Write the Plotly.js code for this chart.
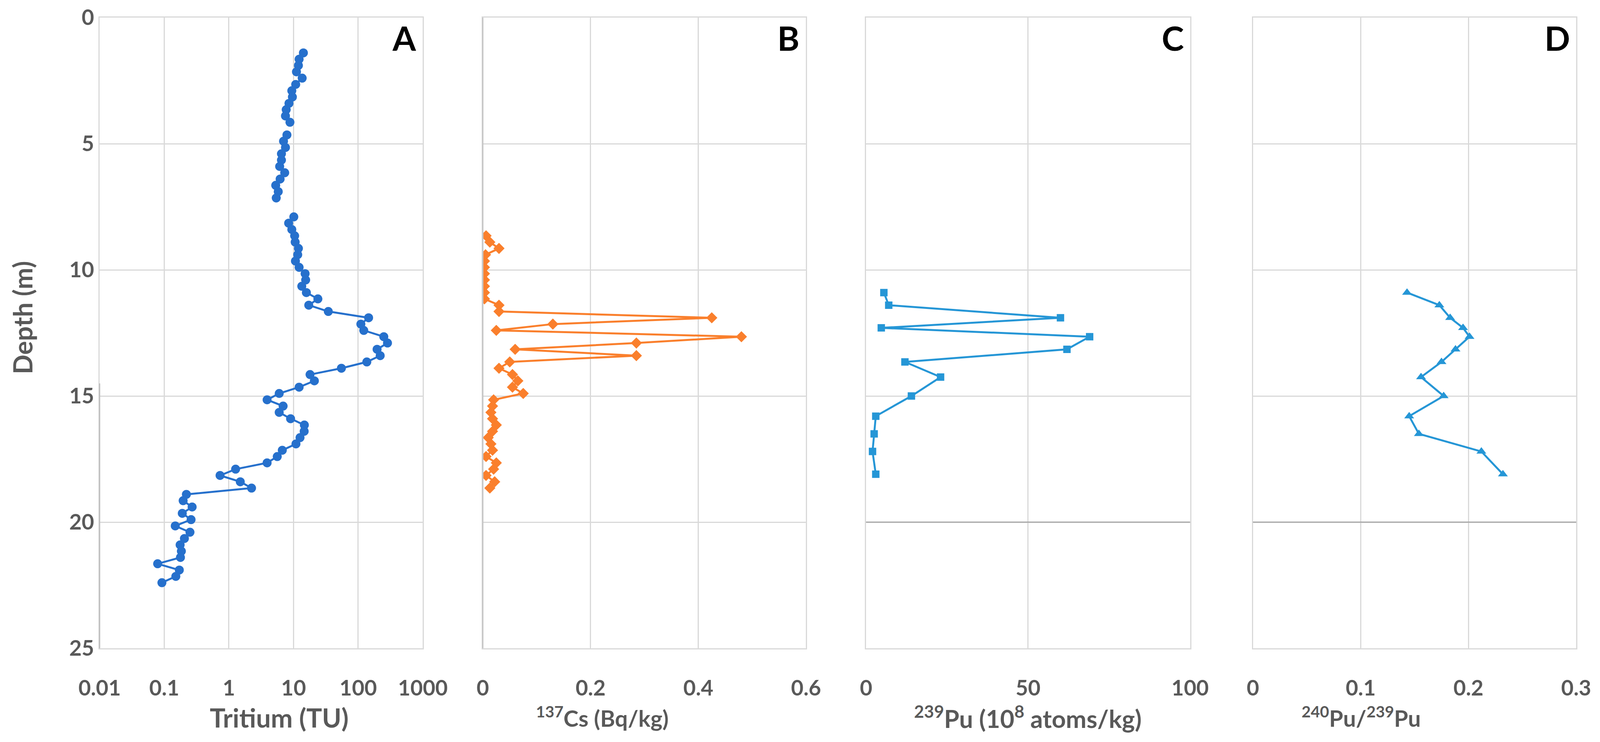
<!DOCTYPE html>
<html>
<head>
<meta charset="utf-8">
<script src="https://cdn.plot.ly/plotly-3.0.1.min.js"></script>
<style>html,body{margin:0;padding:0;background:#fff;overflow:hidden;}#chart{width:100vw;height:100vh;}</style>
</head>
<body>
<div id="chart"></div>
<script>
// ---- Panel A: Tritium (TU) vs depth (m); null breaks the line between sample groups
const tritiumDepth = [1.4,1.65,1.9,2.15,2.4,2.65,2.9,3.15,3.4,3.65,3.9,4.15, null,
  4.65,4.9,5.15,5.4,5.65,5.9,6.15,6.4,6.65,6.9,7.15, null,
  7.9,8.15,8.4,8.65,8.9,9.15,9.4,9.65,9.9,10.15,10.4,10.65,10.9,11.15,11.4,11.65,11.9,12.15,12.4,12.65,12.9,13.15,13.4,13.65,13.9,
  14.15,14.4,14.65,14.9,15.15,15.4,15.65,15.9,16.15,16.4,16.65,16.9,17.15,17.4,17.65,17.9,18.15,18.4,18.65,
  18.9,19.15,19.4,19.65,19.9,20.15,20.4,20.65,20.9,21.15,21.4,21.65,21.9,22.15,22.4];
const tritium = [14.2,12.2,11.9,11.1,13.6,10.8,9.4,9.6,8.5,7.7,7.5,8.8, null,
  7.9,7.0,7.5,6.5,6.5,6.1,7.3,6.2,5.3,5.8,5.4, null,
  10.1,8.4,9.4,10.4,10.6,11.9,11.6,10.7,12.2,15.1,15.4,13.4,15.8,23.8,17.2,34.5,145,110,122,249,284,196,219,136,55,
  18,21,12.2,6.0,3.9,6.9,6.0,9.0,14.7,14.6,12.6,10.9,6.7,5.6,3.9,1.27,0.73,1.5,2.24,
  0.22,0.196,0.27,0.19,0.26,0.148,0.25,0.205,0.176,0.184,0.178,0.079,0.171,0.151,0.092];

// ---- Panel B: 137Cs (Bq/kg)
const csDepth = [8.65,8.9,9.15,9.4,9.65,9.9,10.15,10.4,10.65,10.9,11.15,11.4,11.65,11.9,12.15,12.4,12.65,12.9,13.15,13.4,13.65,13.9,
  14.15,14.4,14.65,14.9,15.15,15.4,15.65,15.9,16.15,16.4,16.65,16.9,17.15,17.4,17.65,17.9,18.15,18.4,18.65];
const cs = [0.006,0.013,0.030,0.005,0.003,0.003,0.003,0.003,0.003,0.003,0.003,0.030,0.030,0.425,0.130,0.025,0.480,0.285,0.060,0.285,0.050,0.030,
  0.055,0.065,0.055,0.075,0.020,0.018,0.015,0.018,0.025,0.018,0.010,0.015,0.018,0.006,0.025,0.020,0.006,0.022,0.013];

// ---- Panels C and D: 239Pu (1e8 atoms/kg) and 240Pu/239Pu
const puDepth = [10.9,11.4,11.9,12.3,12.65,13.15,13.65,14.25,15.0,15.8,16.5,17.2,18.1];
const pu239 = [5.5,7,60,4.7,69,62,12,23,14,3,2.5,2,3];
const puRatio = [0.143,0.173,0.183,0.195,0.201,0.188,0.175,0.156,0.177,0.145,0.154,0.212,0.232];

// ---- Axis tick labels and titles
const depthTicks = [0,5,10,15,20,25];
const tritiumTicks = [0.01,0.1,1,10,100,1000];
const tritiumTickText = ['0.01','0.1','1','10','100','1000'];
const csTicks = [0,0.2,0.4,0.6];
const puTicks = [0,50,100];
const ratioTicks = [0,0.1,0.2,0.3];
const panelLetters = ['A','B','C','D'];
const axisTitles = ['Tritium (TU)', '<sup>137</sup>Cs (Bq/kg)', '<sup>239</sup>Pu (10<sup>8</sup> atoms/kg)', '<sup>240</sup>Pu/<sup>239</sup>Pu'];

const GRID = '#D9D9D9';
const TXT = '#595959';
const FONT = 'Lato, "Open Sans", sans-serif';

const W = window.innerWidth || 4367;
const H = window.innerHeight || 1900;
// frame of the plotting area as fractions of the picture
const LEFT = 0.0623, RIGHT = 0.9851, TOP = 0.0237, BOTTOM = 0.8737;
const mL = LEFT * W, mR = (1 - RIGHT) * W, mT = TOP * H, mB = (1 - BOTTOM) * H;
const pw = RIGHT - LEFT;
const dom = (a, b) => [Math.max(0, (a - LEFT) / pw), Math.min(1, (b - LEFT) / pw)];
const paperY = f => (BOTTOM - f) / (BOTTOM - TOP);   // f = fraction of picture height from the top

const traces = [
  {x: tritium, y: tritiumDepth, xaxis:'x', yaxis:'y', mode:'lines+markers', connectgaps:false,
   line:{color:'#2670CC', width:5}, marker:{symbol:'circle', size:23, color:'#2670CC'}},
  {x: cs, y: csDepth, xaxis:'x2', yaxis:'y2', mode:'lines+markers',
   line:{color:'#FA7F2C', width:5}, marker:{symbol:'diamond', size:22, color:'#FA7F2C'}},
  {x: pu239, y: puDepth, xaxis:'x3', yaxis:'y3', mode:'lines+markers',
   line:{color:'#2596D6', width:5}, marker:{symbol:'square', size:19, color:'#2596D6'}},
  {x: puRatio, y: puDepth, xaxis:'x4', yaxis:'y4', mode:'lines+markers',
   line:{color:'#2596D6', width:5}, marker:{symbol:'triangle-up', size:22, color:'#2596D6'}}
];

const tickFont = {family: FONT, size: 55, color: TXT, weight: 'bold'};
function xAx(domain, extra) {
  return Object.assign({
    domain: domain, showgrid: true, gridcolor: GRID, gridwidth: 3,
    showline: true, linecolor: GRID, linewidth: 3, mirror: true, zeroline: false,
    ticks: '', ticklabelstandoff: 52, tickfont: tickFont, fixedrange: true
  }, extra);
}
function yAx(anchor, showLabels) {
  return {
    anchor: anchor, domain: [0,1], range: [25,0], tickvals: depthTicks,
    showgrid: true, gridcolor: GRID, gridwidth: 3, showline: true, linecolor: GRID, linewidth: 3, mirror: true,
    zeroline: false, ticks: '', showticklabels: showLabels, ticklabelstandoff: 0, tickfont: tickFont, fixedrange: true
  };
}
const axRef = i => (i === 0 ? 'x' : 'x' + (i + 1));
const ayRef = i => (i === 0 ? 'y' : 'y' + (i + 1));

const letterAnn = panelLetters.map((t, i) => ({
  text: t, showarrow: false,
  xref: axRef(i) + ' domain', yref: ayRef(i) + ' domain',
  x: 1, y: 1, xanchor: 'right', yanchor: 'top', xshift: -14, yshift: 2,
  font: {family: FONT, size: 86, color: '#000000', weight: 'bold'}
}));
// x-axis titles: position within each panel (fraction of panel width), vertical centre, size
const titleX = [0.555, 0.37, 0.50, 0.335];
const titleY = [0.967, 0.966, 0.966, 0.966];
const titleSize = [67, 58, 63, 58];
const titleAnn = axisTitles.map((t, i) => ({
  text: t, showarrow: false,
  xref: axRef(i) + ' domain', yref: 'paper', x: titleX[i], xanchor: 'center',
  y: paperY(titleY[i]), yanchor: 'middle',
  font: {family: FONT, size: titleSize[i], color: TXT, weight: 'bold'}
}));
const depthTitle = {
  text: 'Depth (m)', showarrow: false, textangle: -90,
  xref: 'paper', yref: 'paper', x: 0, xanchor: 'center', xshift: -(mL - 0.014 * W),
  y: paperY(0.428), yanchor: 'middle',
  font: {family: FONT, size: 66, color: TXT, weight: 'bold'}
};

const layout = {
  width: W, height: H,
  margin: {l: mL, r: mR, t: mT, b: mB},
  paper_bgcolor: '#FFFFFF', plot_bgcolor: '#FFFFFF',
  showlegend: false,
  font: {family: FONT, color: TXT},
  xaxis: xAx(dom(0.0623, 0.2643), {type: 'log', range: [-2, 3], tickvals: tritiumTicks, ticktext: tritiumTickText}),
  xaxis2: xAx(dom(0.3018, 0.5038), {range: [0, 0.6], tickvals: csTicks, ticktext: csTicks.map(String)}),
  xaxis3: xAx(dom(0.5413, 0.7438), {range: [0, 100], tickvals: puTicks, ticktext: puTicks.map(String)}),
  xaxis4: xAx(dom(0.7831, 0.9851), {range: [0, 0.3], tickvals: ratioTicks, ticktext: ratioTicks.map(String)}),
  yaxis: yAx('x', true),
  yaxis2: yAx('x2', false),
  yaxis3: yAx('x3', false),
  yaxis4: yAx('x4', false),
  annotations: letterAnn.concat(titleAnn, [depthTitle]),
  shapes: [
    {type: 'line', xref: 'x3 domain', yref: 'y3', x0: 0, x1: 1, y0: 20, y1: 20, line: {color: '#A6A6A6', width: 3}},
    {type: 'line', xref: 'x4 domain', yref: 'y4', x0: 0, x1: 1, y0: 20, y1: 20, line: {color: '#A6A6A6', width: 3}},
    {type: 'line', xref: 'x domain', yref: 'y', x0: 0, x1: 0, y0: 14.5, y1: 25, line: {color: '#BDBDBD', width: 3}},
    {type: 'line', xref: 'x2 domain', yref: 'y2', x0: 0, x1: 0, y0: 0, y1: 25, line: {color: '#C4C4C4', width: 3}}
  ]
};

Plotly.newPlot('chart', traces, layout, {staticPlot: true, displayModeBar: false});
</script>
</body>
</html>
